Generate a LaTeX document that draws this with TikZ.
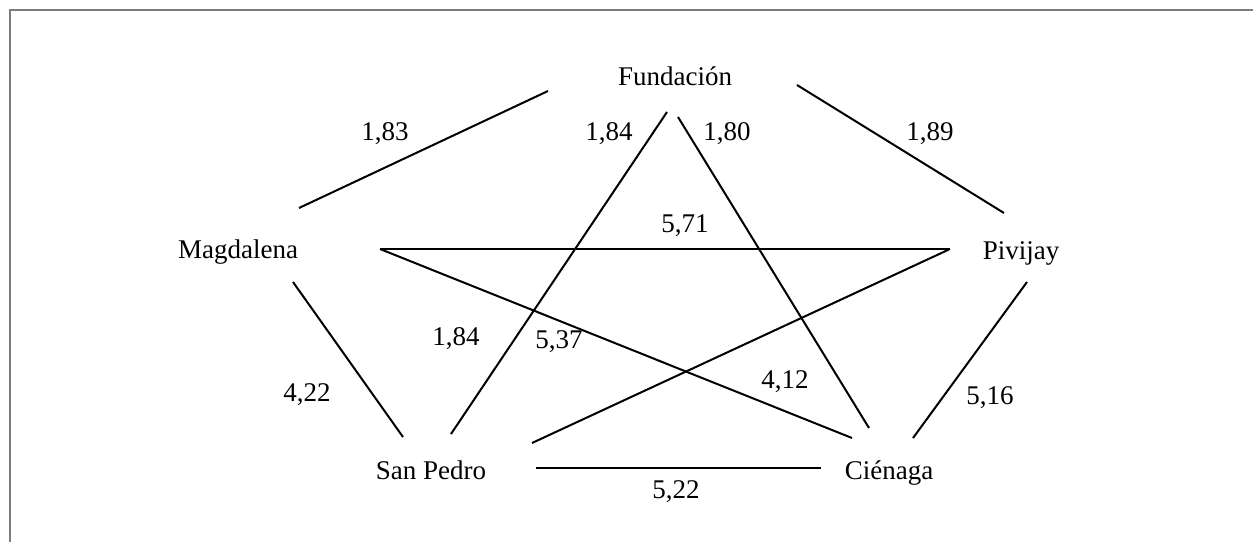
\documentclass[tikz,border=0pt]{standalone}
\usepackage{fontspec}
\setmainfont{Liberation Serif}
\definecolor{framegray}{RGB}{125,125,125}
\begin{document}
\begin{tikzpicture}[x=1pt,y=-1pt,
  txt/.style={anchor=base, inner sep=0pt, font=\fontsize{27}{32}\selectfont},
  edge/.style={line width=2pt, draw=black},
  framestyle/.style={line width=1.8pt, draw=framegray}]
\useasboundingbox (0,0) rectangle (1253,542);
% frame
\coordinate (frtr) at (1253,10);
\coordinate (frtl) at (10,10);
\coordinate (frbl) at (10,542);
\draw[framestyle] (frtr) -- (frtl) -- (frbl);
% town nodes
\node[txt] (fund) at (675,85) {Fundación};
\node[txt] (mag) at (238,258) {Magdalena};
\node[txt] (piv) at (1021,259) {Pivijay};
\node[txt] (sp) at (431,479) {San Pedro};
\node[txt] (cien) at (889,479) {Ciénaga};
% edge end points
\coordinate (fA) at (548,91);   \coordinate (mA) at (299,208);
\coordinate (fB) at (797,85);   \coordinate (pA) at (1004,213);
\coordinate (fC) at (667,112);  \coordinate (sA) at (451,434);
\coordinate (fD) at (678,117);  \coordinate (cA) at (869,428);
\coordinate (mB) at (380,249);  \coordinate (pB) at (950,249);
\coordinate (cB) at (852,438);
\coordinate (sB) at (532,443);
\coordinate (mC) at (293,282);  \coordinate (sC) at (403,437);
\coordinate (pC) at (1027,282); \coordinate (cC) at (913,438);
\coordinate (sD) at (536,468);  \coordinate (cD) at (821,468);
% edges
\draw[edge] (fA) -- (mA);
\draw[edge] (fB) -- (pA);
\draw[edge] (fC) -- (sA);
\draw[edge] (fD) -- (cA);
\draw[edge] (mB) -- (pB);
\draw[edge] (mB) -- (cB);
\draw[edge] (pB) -- (sB);
\draw[edge] (mC) -- (sC);
\draw[edge] (pC) -- (cC);
\draw[edge] (sD) -- (cD);
% weights
\node[txt] (w1) at (385,140) {1,83};
\node[txt] (w2) at (609,140) {1,84};
\node[txt] (w3) at (727,140) {1,80};
\node[txt] (w4) at (930,140) {1,89};
\node[txt] (w5) at (685,232) {5,71};
\node[txt] (w6) at (456,345) {1,84};
\node[txt] (w7) at (559,348) {5,37};
\node[txt] (w8) at (785,388) {4,12};
\node[txt] (w9) at (307,401) {4,22};
\node[txt] (w10) at (990,404) {5,16};
\node[txt] (w11) at (676,498) {5,22};
\end{tikzpicture}
\end{document}
